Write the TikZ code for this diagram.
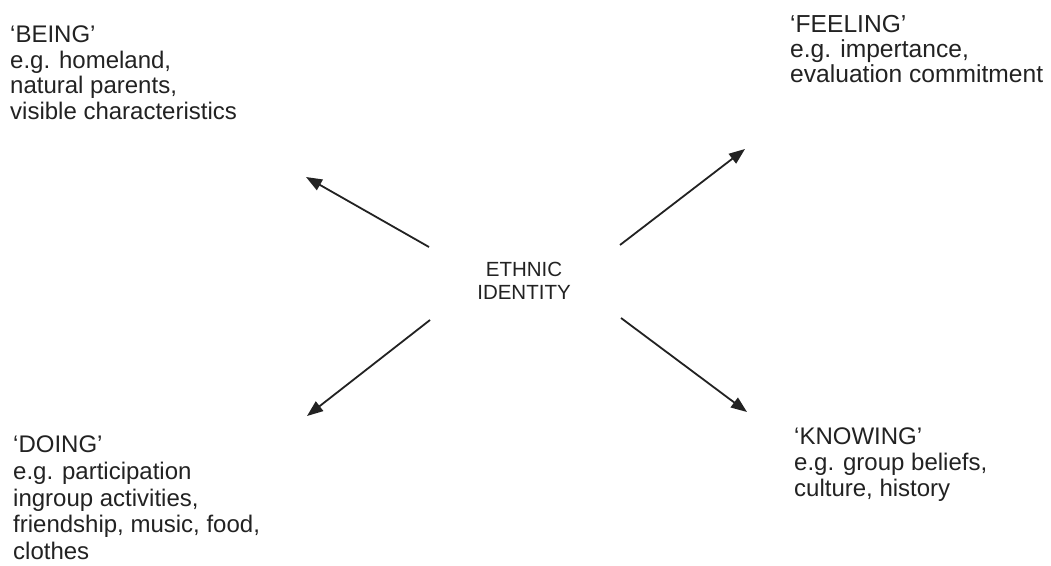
\documentclass[tikz,border=0pt]{standalone}
\usepackage{fontspec}
\setmainfont{Liberation Sans}
\usetikzlibrary{arrows.meta}
\definecolor{ink}{HTML}{222222}
\begin{document}
\begin{tikzpicture}[x=1pt,y=-1pt,
  corner/.style={anchor=north west,inner sep=0pt,align=left,text=ink,
    font=\fontsize{24}{26.5}\selectfont},
  hub/.style={inner sep=0pt,align=center,text=ink,
    font=\fontsize{20.5}{22.5}\selectfont},
  link/.style={draw=ink,line width=1.8pt,
    -{Triangle[length=16pt,width=12pt]}}]
\useasboundingbox[fill=white] (0,0) rectangle (1051,565);

% centre label
\node[hub] (ethnic) at (524,281) {ETHNIC\\IDENTITY};

% the four dimensions
\node[corner,font=\fontsize{24}{25.7}\selectfont] (being) at (10,25.5)
  {`BEING'\\e.g. homeland,\\natural parents,\\visible characteristics};
\node[corner,font=\fontsize{24.6}{24.8}\selectfont] (feeling) at (790,15.5)
  {`FEELING'\\e.g. impertance,\\evaluation commitment};
\node[corner,font=\fontsize{24}{26.6}\selectfont] (doing) at (13,436)
  {`DOING'\\e.g. participation\\ingroup activities,\\friendship, music, food,\\clothes};
\node[corner,font=\fontsize{24}{26}\selectfont] (knowing) at (794,428)
  {`KNOWING'\\e.g. group beliefs,\\culture, history};

% arrow ends
\coordinate (ulS) at (429,247);  \coordinate (ulT) at (306,177);
\coordinate (urS) at (620,245);  \coordinate (urT) at (745,149);
\coordinate (llS) at (430,320);  \coordinate (llT) at (307,416);
\coordinate (lrS) at (621,318);  \coordinate (lrT) at (747,412);

\draw[link] (ulS) -- (ulT);
\draw[link] (urS) -- (urT);
\draw[link] (llS) -- (llT);
\draw[link] (lrS) -- (lrT);
\end{tikzpicture}
\end{document}
